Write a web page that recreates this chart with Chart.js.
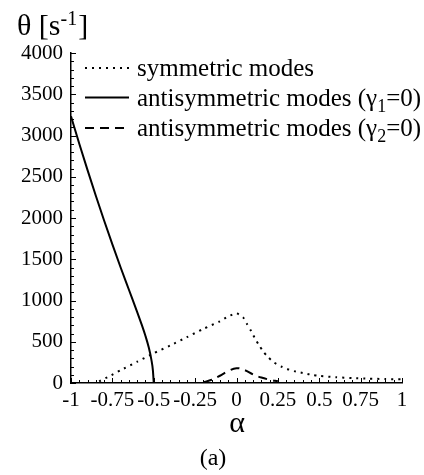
<!DOCTYPE html>
<html>
<head>
<meta charset="utf-8">
<script src="https://cdn.jsdelivr.net/npm/chart.js@4"></script>
<style>
  html, body { margin: 0; padding: 0; background: #fff; }
  canvas { display: block; }
</style>
</head>
<body>
<canvas id="modesChart" width="424" height="475"></canvas>
<script>
// Data
const symAlpha   = [-0.83, -0.77, -0.7, -0.6, -0.5, -0.4, -0.3, -0.2, -0.1, -0.05, 0, 0.04, 0.065, 0.09, 0.11, 0.135, 0.16, 0.19, 0.225, 0.27, 0.32, 0.36, 0.41, 0.46, 0.5, 0.6, 0.7, 0.8, 0.9, 1];
const symTheta   = [20, 80, 155, 258, 360, 455, 555, 656, 748, 807, 845, 795, 710, 625, 545, 462, 385, 315, 252, 200, 160, 138, 118, 97, 86, 70, 60, 53, 48, 45];

const anti1Alpha = [-1, -0.95, -0.9, -0.85, -0.8, -0.75, -0.7, -0.65, -0.6, -0.575, -0.55, -0.53, -0.515, -0.505, -0.5];
const anti1Theta = [3233, 2900, 2580, 2270, 1970, 1680, 1400, 1130, 860, 720, 570, 430, 290, 150, 0];

const anti2Alpha = [-0.2, -0.15, -0.1, -0.05, 0, 0.05, 0.1, 0.15, 0.2, 0.25];
const anti2Theta = [8, 40, 88, 145, 180, 155, 103, 66, 40, 20];

const xTicks = [-1, -0.75, -0.5, -0.25, 0, 0.25, 0.5, 0.75, 1];
const yTicks = [0, 500, 1000, 1500, 2000, 2500, 3000, 3500, 4000];

const legendLabels = [
    { text: 'symmetric modes', sub: '', tail: '' },
    { text: 'antisymmetric modes (γ', sub: '1', tail: '=0)' },
    { text: 'antisymmetric modes (γ', sub: '2', tail: '=0)' }
];

const SERIF = '"Liberation Serif", "DejaVu Serif", serif';
const toPoints = (xs, ys) => xs.map((x, i) => ({ x: x, y: ys[i] }));

const styles = [
    { borderDash: [2, 5] },   // dotted
    { borderDash: [] },       // solid
    { borderDash: [9, 6] }    // dashed
];

// inward ticks, legend, axis titles
const decorations = {
    id: 'decorations',
    afterDraw(chart) {
        const { ctx, chartArea: a, scales: { x, y } } = chart;
        ctx.save();
        ctx.strokeStyle = '#000';
        ctx.lineWidth = 1;

        // y ticks
        for (let v = 0; v <= 4000; v += 100) {
            const py = Math.round(y.getPixelForValue(v)) + 0.5;
            const len = v % 500 === 0 ? 5 : 3;
            ctx.beginPath();
            ctx.moveTo(a.left, py);
            ctx.lineTo(a.left + len, py);
            ctx.stroke();
        }
        // x ticks
        for (let i = 0; i <= 40; i++) {
            const v = -1 + i * 0.05;
            const px = Math.round(x.getPixelForValue(v)) + 0.5;
            const len = i % 5 === 0 ? 5 : 3;
            ctx.beginPath();
            ctx.moveTo(px, a.bottom);
            ctx.lineTo(px, a.bottom - len);
            ctx.stroke();
        }

        // legend
        ctx.fillStyle = '#000';
        ctx.textBaseline = 'alphabetic';
        const rowY = [68, 97.5, 128];
        chart.data.datasets.forEach((ds, i) => {
            const cy = rowY[i];
            ctx.save();
            ctx.lineWidth = 2;
            ctx.setLineDash(ds.borderDash);
            ctx.beginPath();
            ctx.moveTo(85, cy);
            ctx.lineTo(129, cy);
            ctx.stroke();
            ctx.restore();

            const lab = legendLabels[i];
            let tx = 137;
            const base = cy + 8;
            ctx.font = '25px ' + SERIF;
            ctx.fillText(lab.text, tx, base);
            tx += ctx.measureText(lab.text).width;
            if (lab.sub) {
                ctx.font = '18px ' + SERIF;
                ctx.fillText(lab.sub, tx, base + 6);
                tx += ctx.measureText(lab.sub).width;
                ctx.font = '25px ' + SERIF;
                ctx.fillText(lab.tail, tx, base);
            }
        });

        // y axis title
        ctx.font = '30px ' + SERIF;
        ctx.fillText('θ [s', 17, 35);
        let w = ctx.measureText('θ [s').width;
        ctx.font = '20px ' + SERIF;
        ctx.fillText('-1', 17 + w, 25);
        w += ctx.measureText('-1').width + 1;
        ctx.font = '30px ' + SERIF;
        ctx.fillText(']', 17 + w, 35);

        // x axis title and caption
        ctx.textAlign = 'center';
        ctx.font = '30px ' + SERIF;
        ctx.fillText('α', 237, 432);
        ctx.font = '24px ' + SERIF;
        ctx.fillText('(a)', 213, 465);
        ctx.restore();
    }
};

new Chart(document.getElementById('modesChart').getContext('2d'), {
    type: 'line',
    data: {
        datasets: [
            {
                label: 'symmetric modes',
                data: toPoints(symAlpha, symTheta),
                borderColor: '#000',
                borderWidth: 2,
                borderDash: styles[0].borderDash,
                pointRadius: 0,
                tension: 0.2
            },
            {
                label: 'antisymmetric modes (γ1=0)',
                data: toPoints(anti1Alpha, anti1Theta),
                borderColor: '#000',
                borderWidth: 2,
                borderDash: styles[1].borderDash,
                pointRadius: 0,
                cubicInterpolationMode: 'monotone'
            },
            {
                label: 'antisymmetric modes (γ2=0)',
                data: toPoints(anti2Alpha, anti2Theta),
                borderColor: '#000',
                borderWidth: 2,
                borderDash: styles[2].borderDash,
                pointRadius: 0,
                tension: 0.4
            }
        ]
    },
    options: {
        responsive: false,
        animation: false,
        layout: { padding: { left: 0, top: 53, right: 22, bottom: 0 } },
        plugins: {
            legend: { display: false },
            tooltip: { enabled: false }
        },
        scales: {
            x: {
                type: 'linear',
                min: -1,
                max: 1,
                afterBuildTicks: s => { s.ticks = xTicks.map(v => ({ value: v })); },
                afterFit: s => { s.height = 92; },
                grid: { display: false, drawTicks: false },
                border: { display: true, color: '#000', width: 1.5 },
                ticks: {
                    autoSkip: false,
                    maxRotation: 0,
                    padding: 5,
                    color: '#000',
                    font: { family: SERIF, size: 21 },
                    callback: v => String(v)
                }
            },
            y: {
                min: 0,
                max: 4000,
                afterBuildTicks: s => { s.ticks = yTicks.map(v => ({ value: v })); },
                afterFit: s => { s.width = 71; },
                grid: { display: false, drawTicks: false },
                border: { display: true, color: '#000', width: 1.5 },
                ticks: {
                    padding: 8,
                    color: '#000',
                    font: { family: SERIF, size: 21 },
                    callback: v => String(v)
                }
            }
        }
    },
    plugins: [decorations]
});
</script>
</body>
</html>
